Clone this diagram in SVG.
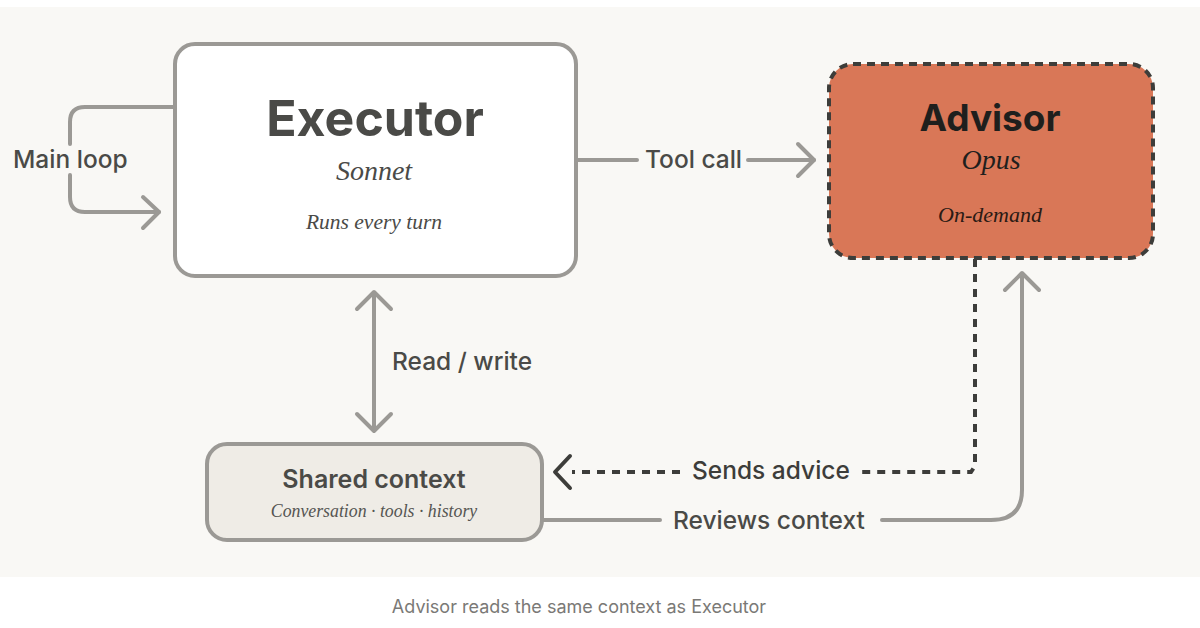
<svg xmlns="http://www.w3.org/2000/svg" width="1200" height="628" viewBox="0 0 1200 628">
<defs>
<style>
.sans{font-family:Inter,"Liberation Sans",sans-serif}
.serif{font-family:"Liberation Serif","DejaVu Serif",serif;font-style:italic}
.conn{fill:none;stroke:#9b9995;stroke-width:4;stroke-linecap:round;stroke-linejoin:round}
.dash{fill:none;stroke:#3d3d3a;stroke-width:4;stroke-dasharray:8 7}
.head{fill:none;stroke:#9b9995;stroke-width:4;stroke-linecap:round;stroke-linejoin:round}
.lbl{font-size:24.5px;fill:#4a4a47;font-weight:500}
</style>
</defs>
<rect x="0" y="0" width="1200" height="628" fill="#ffffff"/>
<rect x="0" y="7" width="1200" height="570" fill="#f9f8f5"/>

<g id="connectors">
  <!-- main loop -->
  <path class="conn" d="M174 107 H85 Q70 107 70 122 V144 M70 175 V197 Q70 212 85 212 H159"/>
  <polyline class="head" points="143,197 159,212 143,228"/>
  <text class="sans lbl" x="13" y="168">Main loop</text>
  <!-- tool call -->
  <path class="conn" d="M577 160 H637 M748 160 H814"/>
  <polyline class="head" points="798,144 814,160 798,176"/>
  <text class="sans lbl" x="645" y="168">Tool call</text>
  <!-- read/write -->
  <path class="conn" d="M374 293 V430"/>
  <polyline class="head" points="357,309 374,292 391,309"/>
  <polyline class="head" points="357,414 374,431 391,414"/>
  <text class="sans lbl" x="392" y="370">Read / write</text>
  <!-- sends advice -->
  <path class="dash" d="M975 259 V466 L971 472 H860"/>
  <path class="dash" d="M680 472 H572"/>
  <polyline points="570,456 555,472 570,488" fill="none" stroke="#3d3d3a" stroke-width="4" stroke-linecap="round" stroke-linejoin="round"/>
  <text class="sans lbl" x="692" y="479" style="fill:#3d3d3a">Sends advice</text>
  <!-- reviews context -->
  <path class="conn" d="M543 520 H660 M882 520 H991 Q1022 520 1022 490 V275"/>
  <polyline class="head" points="1005,290 1022,273 1039,290"/>
  <text class="sans lbl" x="673" y="529">Reviews context</text>
</g>

<g id="executor">
  <rect x="175" y="44" width="401" height="232" rx="20" fill="#ffffff" stroke="#9b9995" stroke-width="4"/>
  <text class="sans" x="375" y="136" text-anchor="middle" font-size="50" font-weight="700" fill="#4a4a47">Executor</text>
  <text class="serif" x="374" y="180" text-anchor="middle" font-size="28" fill="#4a4a47">Sonnet</text>
  <text class="serif" x="374" y="229" text-anchor="middle" font-size="21.5" fill="#4a4a47">Runs every turn</text>
</g>

<g id="advisor">
  <rect x="829" y="64" width="324" height="194" rx="24" fill="#d97757" stroke="#3d3d3a" stroke-width="4" stroke-dasharray="8 6"/>
  <text class="sans" x="990" y="131" text-anchor="middle" font-size="37" font-weight="700" fill="#1f1f1d">Advisor</text>
  <text class="serif" x="991" y="169" text-anchor="middle" font-size="28" fill="#1f1f1d">Opus</text>
  <text class="serif" x="990" y="222" text-anchor="middle" font-size="22" fill="#2a1a14">On-demand</text>
</g>

<g id="shared-context">
  <rect x="207" y="444" width="335" height="96" rx="20" fill="#efece6" stroke="#9b9995" stroke-width="4"/>
  <text class="sans" x="374" y="488" text-anchor="middle" font-size="25" font-weight="600" fill="#4a4a47">Shared context</text>
  <text class="serif" x="374" y="517" text-anchor="middle" font-size="17.8" fill="#555552">Conversation · tools · history</text>
</g>

<text class="sans" x="579" y="613" text-anchor="middle" font-size="18" fill="#7a7976">Advisor reads the same context as Executor</text>
</svg>
